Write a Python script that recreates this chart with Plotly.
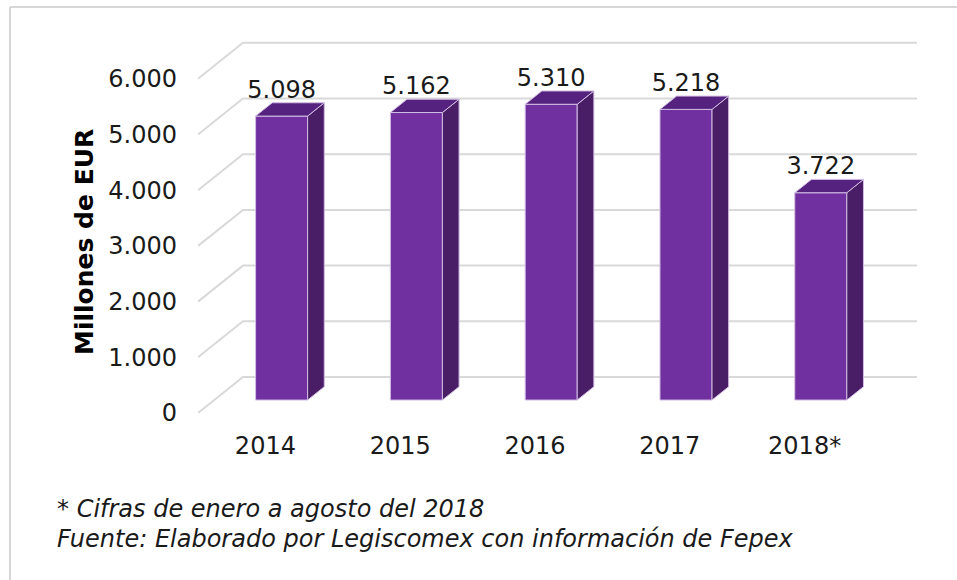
import plotly.graph_objects as go

# ---------------- data ----------------
categories = ["2014", "2015", "2016", "2017", "2018*"]
values = [5098, 5162, 5310, 5218, 3722]
y_tick_values = [0, 1000, 2000, 3000, 4000, 5000, 6000]
y_tick_labels = ["0", "1.000", "2.000", "3.000", "4.000", "5.000", "6.000"]
y_title = "Millones de EUR"
footnote_1 = "* Cifras de enero a agosto del 2018"
footnote_2 = "Fuente: Elaborado por Legiscomex con información de Fepex"

# ---------------- geometry / style ----------------
W, H = 957, 580
L, R, T, B = 198, 930, 30, 413          # plot area (pixels)
PX_CAT = 134.8                            # pixels per category
PX_K = 55.7                               # pixels per 1000 units
DEPTH_DX = 45 / PX_CAT                    # oblique x-shift of the floor depth (category units)
DEPTH_DY = 36 / PX_K * 1000               # oblique y-shift of the floor depth (value units)
D_FRONT = 0.64                            # depth of bar front face (0 back, 1 front)
THICK = 0.37                              # bar depth
BAR_W = 0.386                             # bar width (category units)
LABEL_GAP = 11 / PX_K * 1000              # label centre above bar top (value units)

FONT = "DejaVu Sans, Verdana, sans-serif"
TXT = "#1a1a1a"
GRID = "#d9d9d9"
FRONT_C = "#7030a0"
TOP_C = "#55237f"
SIDE_C = "#4a1e66"
EDGE_C = "#d2bde3"
FS = 24

x_range = [-0.5 - DEPTH_DX, -0.5 - DEPTH_DX + (R - L) / PX_CAT]
y_range = [0, (B - T) / PX_K * 1000]


def px_x(p):
    return (p - L) / (R - L)


def px_y(p):
    return (B - p) / (B - T)


def proj(c, v, d):
    """oblique projection: category c, value v, depth d -> axis coords"""
    return c - DEPTH_DX * d, v + DEPTH_DY * (1 - d)


fig = go.Figure()

# ----- gridlines (back wall + side wall diagonals) as shapes below traces -----
shapes = []
for tv in y_tick_values:
    x0, y0 = proj(-0.5, tv, 0)
    x1, y1 = proj(len(categories) - 0.5, tv, 0)
    xf, yf = proj(-0.5, tv, 1)
    path = f"M {xf},{yf} L {x0},{y0} L {x1},{y1}"
    shapes.append(dict(type="path", path=path, xref="x", yref="y",
                       line=dict(color=GRID, width=2), layer="below"))

# outer frame (top + left edge of the picture box)
shapes.append(dict(type="line", xref="paper", yref="paper",
                   x0=px_x(10), x1=px_x(W + 5), y0=px_y(7), y1=px_y(7),
                   line=dict(color="#d6d6d6", width=2)))
shapes.append(dict(type="line", xref="paper", yref="paper",
                   x0=px_x(10), x1=px_x(10), y0=px_y(7), y1=px_y(H + 5),
                   line=dict(color="#d6d6d6", width=2)))

# ----- bar front faces -----
base = DEPTH_DY * (1 - D_FRONT)
front_x = [proj(i, 0, D_FRONT)[0] for i in range(len(categories))]
fig.add_trace(go.Bar(
    x=front_x, y=values, base=[base] * len(values), width=BAR_W,
    marker=dict(color=FRONT_C, line=dict(color=EDGE_C, width=1)),
    hoverinfo="skip", showlegend=False,
))

# ----- side and top faces -----
side_x, side_y, top_x, top_y = [], [], [], []
for i, v in enumerate(values):
    fx, fy0 = proj(i, 0, D_FRONT)
    bx, by0 = proj(i, 0, D_FRONT - THICK)
    xr_f, xr_b = fx + BAR_W / 2, bx + BAR_W / 2
    xl_f, xl_b = fx - BAR_W / 2, bx - BAR_W / 2
    side_x += [xr_f, xr_b, xr_b, xr_f, xr_f, None]
    side_y += [fy0, by0, by0 + v, fy0 + v, fy0, None]
    top_x += [xl_f, xr_f, xr_b, xl_b, xl_f, None]
    top_y += [fy0 + v, fy0 + v, by0 + v, by0 + v, fy0 + v, None]

fig.add_trace(go.Scatter(x=side_x, y=side_y, mode="lines", fill="toself",
                         fillcolor=SIDE_C, line=dict(color=EDGE_C, width=1),
                         hoverinfo="skip", showlegend=False))
fig.add_trace(go.Scatter(x=top_x, y=top_y, mode="lines", fill="toself",
                         fillcolor=TOP_C, line=dict(color=EDGE_C, width=1),
                         hoverinfo="skip", showlegend=False))

# ----- value labels -----
label_text = [f"{v:,}".replace(",", ".") for v in values]
label_y = [proj(i, v, D_FRONT - THICK)[1] + LABEL_GAP for i, v in enumerate(values)]
fig.add_trace(go.Scatter(x=front_x, y=label_y, mode="text", text=label_text,
                         textposition="middle center",
                         textfont=dict(family=FONT, size=FS, color=TXT),
                         hoverinfo="skip", showlegend=False, cliponaxis=False))

# ----- annotations -----
annotations = [
    dict(text=f"<b>{y_title}</b>", xref="paper", yref="paper",
         x=px_x(84), y=px_y(242), textangle=-90, showarrow=False,
         xanchor="center", yanchor="middle",
         font=dict(family=FONT, size=25, color="#000000")),
    dict(text=f"<i>{footnote_1}</i>", xref="paper", yref="paper",
         x=px_x(55), y=px_y(509), showarrow=False, xanchor="left", yanchor="middle",
         font=dict(family=FONT, size=FS, color=TXT)),
    dict(text=f"<i>{footnote_2}</i>", xref="paper", yref="paper",
         x=px_x(55), y=px_y(539), showarrow=False, xanchor="left", yanchor="middle",
         font=dict(family=FONT, size=FS, color=TXT)),
]

tick_x = [proj(i, 0, 1)[0] for i in range(len(categories))]

fig.update_layout(
    width=W, height=H,
    margin=dict(l=L, r=W - R, t=T, b=H - B, pad=0),
    paper_bgcolor="white", plot_bgcolor="white",
    barmode="overlay",
    shapes=shapes, annotations=annotations,
    font=dict(family=FONT, color=TXT),
    xaxis=dict(range=x_range, showgrid=False, zeroline=False, showline=False,
               tickmode="array", tickvals=tick_x, ticktext=categories,
               ticks="", ticklabelstandoff=16,
               tickfont=dict(family=FONT, size=FS, color=TXT), fixedrange=True),
    yaxis=dict(range=y_range, showgrid=False, zeroline=False, showline=False,
               tickmode="array", tickvals=y_tick_values, ticktext=y_tick_labels,
               ticks="", ticklabelstandoff=20,
               tickfont=dict(family=FONT, size=FS, color=TXT), fixedrange=True),
)

fig.write_html(
    "out.html",
    config={"displayModeBar": False},
    post_script="document.body.style.margin='0';document.body.style.overflow='hidden';",
)
